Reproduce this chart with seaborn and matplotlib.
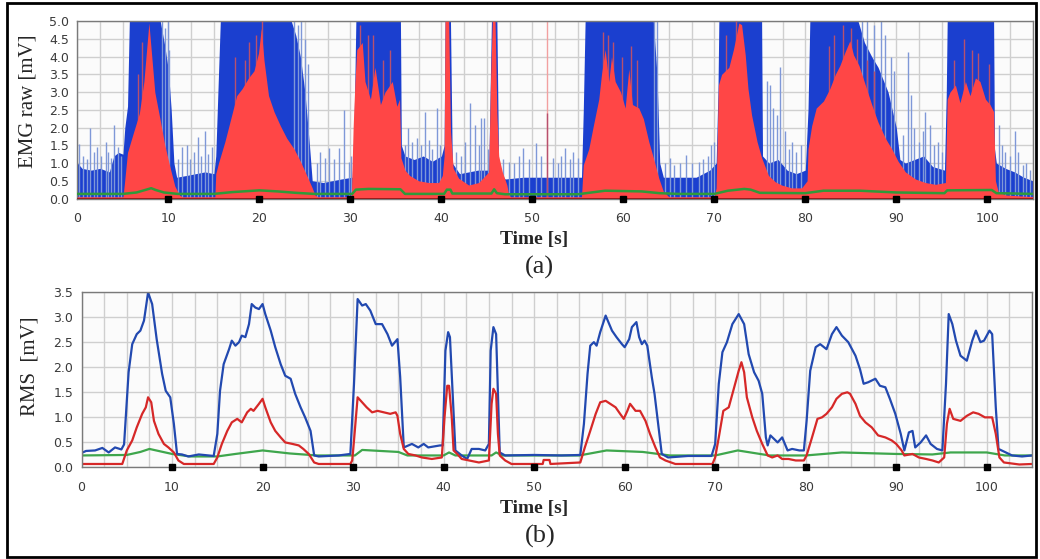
import numpy as np
import pandas as pd
import matplotlib
matplotlib.use("Agg")
import matplotlib.pyplot as plt
from matplotlib.patches import Rectangle
import seaborn as sns

# ---- panel (a): raw EMG, envelopes (time [s], mV) ----
raw_blue_t = [0, 0.5, 1.5, 2.5, 3.5, 4.0, 4.5, 5.0, 5.2, 5.5, 5.7, 9.1, 9.6, 10.0, 10.3, 10.6, 10.9,
              12, 13, 14, 15, 15.2, 15.5, 15.7, 23.5, 24.0, 24.5, 25.0, 25.5, 25.8, 27, 28, 29, 30.2,
              30.4, 30.6, 35.5, 35.6, 36.0, 37, 38, 39, 40.0, 40.3, 40.4, 41.0, 41.2, 42, 43, 44, 45.2,
              45.5, 46.1, 46.3, 47, 49, 51, 53, 55.4, 55.6, 55.8, 63.3, 63.7, 64.0, 64.4, 66, 68, 69.5,
              70.2, 70.4, 70.5, 75.2, 75.3, 76, 77, 78, 79, 80.0, 80.3, 80.5, 85.8, 86.5, 87.3, 88.0,
              89.1, 90.0, 90.4, 91, 92, 93, 94, 95.3, 95.5, 95.6, 100.7, 100.8, 101.0, 102, 103, 104, 105]
raw_blue_v = [1.0, 0.85, 0.8, 0.85, 0.75, 1.2, 1.3, 1.25, 2.0, 2.6, 5.0, 5.0, 4.3, 3.6, 2.5, 1.0, 0.6,
              0.65, 0.7, 0.75, 0.7, 1.2, 3.5, 5.0, 5.0, 4.6, 4.0, 3.0, 1.5, 0.5, 0.45, 0.5, 0.55, 0.6,
              2.0, 5.0, 5.0, 1.5, 1.2, 1.1, 1.2, 1.05, 1.2, 1.5, 5.0, 5.0, 1.0, 0.7, 0.75, 0.8, 0.8,
              5.0, 5.0, 0.8, 0.55, 0.6, 0.6, 0.6, 0.6, 2.5, 5.0, 5.0, 3.5, 1.0, 0.6, 0.6, 0.6, 0.8,
              1.0, 3.0, 5.0, 5.0, 1.2, 1.0, 1.1, 0.8, 0.7, 0.8, 2.5, 5.0, 5.0, 4.4, 4.0, 3.7,
              3.0, 2.0, 1.1, 1.0, 1.1, 1.2, 0.9, 0.8, 3.0, 5.0, 5.0, 1.4, 1.0, 0.85, 0.75, 0.6, 0.5]

blue_spike_t = [0.2, 0.6, 1.0, 1.4, 1.8, 2.2, 2.6, 3.1, 3.4, 3.7, 4.05, 4.5, 4.8,
                9.3, 9.6, 9.9, 10.1, 11.1, 11.5, 12.0, 12.4, 12.8, 13.2, 13.6, 14.05, 14.4, 14.8,
                23.8, 24.2, 24.6, 25.0, 25.3, 26.3, 26.7, 27.2, 27.6, 28.2, 28.7, 29.3, 29.8, 30.1,
                36.0, 36.3, 36.8, 37.3, 37.8, 38.2, 38.6, 39.0, 39.5, 39.9,
                41.6, 42.2, 42.6, 43.2, 43.7, 44.1, 44.4, 44.7, 45.1,
                46.8, 47.4, 48.0, 48.5, 49.0, 49.6, 50.4, 50.9, 52.3, 52.8, 53.2, 53.6, 54.1, 54.5, 55.0,
                63.4, 63.7, 64.6, 65.1, 65.6, 66.2, 66.9, 67.5, 68.3, 68.8, 69.3, 69.6, 70.0,
                75.8, 76.1, 76.5, 76.9, 77.2, 77.8, 78.2, 78.5, 79.0, 79.5,
                86.2, 86.8, 87.5, 88.3, 88.8, 89.4, 89.8,
                90.7, 91.3, 91.6, 92.0, 92.5, 92.9, 93.2, 93.7, 94.2, 94.6, 95.0,
                101.3, 101.6, 102.0, 102.5, 103.0, 103.4, 103.9, 104.3, 104.7]
blue_spike_v = [1.55, 1.2, 1.1, 1.98, 1.3, 1.45, 1.2, 1.6, 1.3, 1.15, 2.07, 1.45, 1.2,
                5.0, 4.8, 5.0, 4.2, 1.1, 1.46, 1.5, 1.1, 1.3, 1.74, 1.2, 1.89, 1.25, 1.46,
                5.0, 4.9, 5.0, 4.5, 3.8, 1.0, 1.32, 1.15, 1.42, 1.1, 1.42, 2.5, 1.04, 1.2,
                1.5, 1.98, 1.6, 1.7, 1.5, 2.45, 1.65, 1.4, 2.54, 1.5,
                1.3, 1.2, 1.6, 2.68, 2.07, 1.5, 2.26, 2.26, 1.4,
                1.1, 1.04, 1.0, 1.2, 1.42, 1.1, 1.56, 1.2, 1.13, 1.0, 1.2, 1.42, 1.1, 1.32, 1.15,
                5.0, 5.0, 1.0, 1.13, 0.95, 1.0, 1.23, 1.0, 1.04, 1.1, 1.2, 1.51, 1.6,
                3.3, 3.2, 2.54, 2.36, 3.72, 1.89, 1.4, 1.6, 1.3, 1.5,
                5.0, 5.0, 4.9, 5.0, 4.6, 4.0, 3.6,
                1.8, 4.14, 2.92, 2.0, 1.6, 1.9, 2.45, 2.07, 1.5, 1.6, 1.32,
                2.07, 1.5, 1.3, 1.2, 1.89, 1.3, 0.95, 1.0, 0.8]

raw_red_t = [0, 5.0, 5.15, 5.5, 6.2, 6.8, 7.3, 7.6, 7.85, 8.2, 8.5, 9.1, 9.6, 10.2, 10.7, 11.2, 11.5,
             15.1, 15.2, 15.5, 16.2, 17.0, 17.5, 18.1, 18.8, 19.4, 19.9, 20.2, 20.5, 21.0, 21.6, 22.3,
             23.0, 23.8, 24.5, 25.2, 25.8, 26.1, 26.4,
             30.1, 30.3, 30.5, 30.7, 31.3, 31.6, 32.2, 32.7, 33.3, 33.8, 34.6, 35.1, 35.4, 35.55, 36.0,
             36.5, 37.5, 38.6, 39.7, 40.1, 40.3, 40.4, 40.8, 41.0, 41.3, 41.9, 43.0, 44.1, 45.2, 45.4,
             45.6, 45.9, 46.1, 46.3, 46.7, 47.2, 47.4, 47.6,
             55.4, 55.6, 56.2, 56.7, 57.3, 57.6, 58.0, 58.4, 58.7, 59.1, 59.7, 60.2, 60.6, 61.0, 61.7,
             62.2, 62.8, 63.3, 63.9, 64.4, 65.0,
             70.0, 70.2, 70.45, 70.8, 71.6, 72.1, 72.7, 73.0, 73.4, 73.7, 74.1, 74.7, 75.2, 75.95, 76.7,
             77.4, 78.5, 79.6, 80.2, 80.3, 80.7, 81.2, 82.0, 82.7, 83.3, 83.8, 84.4, 84.9, 85.3, 85.9,
             86.6, 87.3, 88.0, 88.8, 89.5, 90.2, 91.0, 92.1, 93.2, 94.3, 95.4, 95.6, 95.9, 96.5, 97.0,
             97.6, 98.1, 98.7, 99.2, 99.8, 100.3, 100.7, 100.9, 101.2, 102.0, 105]
raw_red_v = [0.05, 0.05, 0.4, 1.3, 1.9, 2.4, 3.3, 4.2, 4.95, 3.9, 3.0, 2.2, 1.5, 0.85, 0.35, 0.1, 0.05,
             0.05, 0.7, 1.0, 1.6, 2.4, 2.9, 3.1, 3.4, 3.6, 4.1, 4.8, 3.9, 2.9, 2.45, 2.05,
             1.7, 1.4, 1.05, 0.65, 0.3, 0.1, 0.05,
             0.05, 2.0, 3.3, 4.2, 4.4, 3.3, 2.8, 3.7, 2.65, 3.0, 3.3, 2.6, 2.8, 1.15, 0.8,
             0.65, 0.5, 0.45, 0.45, 0.65, 1.2, 5.0, 5.0, 1.9, 0.85, 0.57, 0.38, 0.45, 0.75, 3.3,
             5.0, 5.0, 2.4, 1.2, 0.75, 0.38, 0.1, 0.05,
             0.05, 0.95, 1.4, 2.05, 2.8, 3.5, 4.2, 3.3, 4.0, 3.3, 3.0, 2.55, 3.65, 2.65, 2.55,
             2.25, 1.6, 1.15, 0.57, 0.2, 0.05,
             0.05, 0.3, 3.2, 3.5, 3.7, 4.2, 4.95, 4.9, 4.05, 3.1, 2.35, 1.6, 1.15, 0.65, 0.47,
             0.38, 0.3, 0.3, 0.5, 1.4, 2.05, 2.55, 2.75, 3.1, 3.5, 3.75, 4.15, 4.45, 4.05, 3.75,
             3.2, 2.65, 2.15, 1.7, 1.4, 1.05, 0.75, 0.55, 0.45, 0.4, 0.45, 2.8, 3.0, 3.2, 2.7,
             3.3, 2.9, 3.4, 3.3, 2.8, 2.65, 2.45, 0.5, 0.2, 0.1, 0.05]

red_spike_t = [6.6, 7.1, 17.3, 18.4, 18.9, 19.6, 20.3, 31.0, 31.9, 32.5, 33.6, 34.4, 51.6,
               57.8, 58.3, 58.9, 59.8, 60.8, 61.5, 71.3, 72.4, 82.6, 83.2, 84.1, 85.0, 85.7,
               86.8, 87.6, 96.3, 97.4, 98.3, 99.0, 100.2]
red_spike_v = [3.5, 4.4, 4.0, 3.9, 4.4, 4.6, 5.0, 4.9, 4.6, 4.6, 3.9, 4.2, 2.4,
               4.7, 4.6, 4.4, 4.0, 4.3, 3.9, 4.6, 5.0, 4.3, 4.6, 4.9, 4.8, 4.5,
               3.9, 3.6, 3.9, 4.5, 4.2, 4.1, 3.8]

raw_green_t = [0, 5, 6.5, 8.1, 8.6, 9.5, 11, 15, 17, 20, 22, 24, 26, 30.2, 30.6, 32, 35.5, 36,
               40.3, 40.6, 41, 41.2, 45.5, 45.8, 46.1, 47, 55, 56.5, 58, 62, 64, 66, 70, 71.5,
               73.3, 74, 75, 80, 82, 86, 90, 95.3, 95.6, 100.5, 101, 105]
raw_green_v = [0.13, 0.13, 0.17, 0.29, 0.24, 0.17, 0.13, 0.13, 0.18, 0.23, 0.2, 0.16, 0.13, 0.13,
               0.25, 0.27, 0.26, 0.13, 0.13, 0.25, 0.25, 0.14, 0.14, 0.26, 0.15, 0.12, 0.12, 0.17,
               0.22, 0.2, 0.15, 0.13, 0.13, 0.22, 0.27, 0.25, 0.16, 0.15, 0.22, 0.22, 0.17, 0.15,
               0.23, 0.24, 0.15, 0.13]

# ---- panel (b): RMS ----
rms_blue_t = [0, 0.5, 1.5, 2.3, 3.0, 3.7, 4.4, 4.7, 5.2, 5.6, 6.1, 6.5, 6.9, 7.35, 7.8, 8.3, 8.9, 9.3,
              9.8, 10.2, 10.55, 11.1, 11.8, 12.95, 14.05, 14.6, 15.0, 15.3, 15.7, 16.3, 16.6, 17.0,
              17.4, 17.7, 18.1, 18.5, 18.8, 19.2, 19.6, 20.0, 20.3, 20.9, 21.4, 22.0, 22.5, 23.1,
              23.6, 24.2, 24.7, 25.3, 25.7, 26.2, 28.4, 29.7, 30.1, 30.5, 31.0, 31.4, 31.9, 32.5,
              33.2, 33.8, 34.3, 34.9, 35.2, 35.6, 36.5, 37.2, 37.8, 38.3, 39.6, 39.9, 40.2, 40.5,
              40.7, 41.0, 41.3, 42.0, 42.6, 43.1, 43.9, 44.6, 45.0, 45.2, 45.5, 45.8, 46.0, 46.2,
              46.8, 50, 53, 55.1, 55.5, 55.9, 56.2, 56.6, 56.9, 57.3, 57.9, 58.2, 58.6, 59.1, 59.7,
              60.0, 60.5, 60.8, 61.3, 61.6, 61.9, 62.2, 62.5, 63.0, 63.3, 63.7, 64.1, 64.8, 67,
              69.6, 70.0, 70.4, 70.8, 71.3, 71.9, 72.6, 73.2, 73.7, 74.3, 74.8, 75.2, 75.6, 75.8,
              76.1, 76.5, 76.9, 77.4, 78.0, 78.5, 79.3, 79.8, 80.1, 80.5, 81.1, 81.6, 82.3, 82.9,
              83.4, 84.0, 84.7, 85.5, 86.0, 86.4, 86.9, 87.7, 88.2, 88.8, 89.3, 89.9, 90.5, 90.9,
              91.4, 91.8, 92.1, 92.7, 93.3, 93.8, 94.5, 95.1, 95.5, 95.8, 96.2, 96.6, 97.1, 97.8,
              98.4, 98.8, 99.3, 99.7, 100.3, 100.6, 101.0, 101.3, 102.1, 102.8, 103.9, 105]
rms_blue_v = [0.28, 0.32, 0.33, 0.38, 0.29, 0.39, 0.35, 0.45, 1.89, 2.45, 2.65, 2.72, 2.92, 3.48,
              3.25, 2.55, 1.86, 1.52, 1.39, 0.86, 0.26, 0.25, 0.21, 0.25, 0.23, 0.22, 0.66, 1.52,
              2.05, 2.35, 2.52, 2.42, 2.49, 2.62, 2.59, 2.85, 3.25, 3.18, 3.15, 3.25, 3.05, 2.72,
              2.39, 2.05, 1.82, 1.76, 1.46, 1.19, 0.99, 0.72, 0.23, 0.21, 0.23, 0.26, 1.66, 3.35,
              3.22, 3.25, 3.12, 2.85, 2.85, 2.65, 2.42, 2.55, 1.8, 0.39, 0.46, 0.39, 0.46, 0.39,
              0.43, 0.43, 2.32, 2.69, 2.59, 1.46, 0.33, 0.23, 0.16, 0.36, 0.36, 0.33, 0.46, 2.32,
              2.79, 2.65, 1.46, 0.29, 0.23, 0.24, 0.23, 0.24, 0.86, 1.86, 2.42, 2.49, 2.42, 2.69,
              3.02, 2.89, 2.72, 2.59, 2.45, 2.39, 2.55, 2.79, 2.89, 2.59, 2.45, 2.52, 2.42, 1.79,
              1.46, 0.86, 0.26, 0.19, 0.22, 0.22, 0.46, 1.66, 2.29, 2.49, 2.85, 3.05, 2.85, 2.25,
              1.89, 1.72, 1.46, 0.59, 0.43, 0.63, 0.56, 0.49, 0.59, 0.33, 0.36, 0.33, 0.33, 0.92,
              1.92, 2.39, 2.45, 2.35, 2.65, 2.79, 2.62, 2.49, 2.22, 1.95, 1.66, 1.69, 1.76, 1.62,
              1.59, 1.36, 1.06, 0.66, 0.33, 0.69, 0.72, 0.39, 0.49, 0.63, 0.46, 0.36, 0.33, 1.66,
              3.05, 2.85, 2.52, 2.22, 2.12, 2.52, 2.72, 2.49, 2.52, 2.72, 2.65, 1.19, 0.36, 0.29,
              0.23, 0.21, 0.23]

rms_red_t = [0, 4.5, 5.0, 5.6, 6.1, 6.7, 7.1, 7.35, 7.7, 8.0, 8.5, 9.1, 9.6, 10.2, 10.7, 11.3, 14.6,
             15.0, 15.5, 16.1, 16.6, 17.2, 17.7, 18.3, 18.7, 19.0, 19.6, 20.0, 20.3, 20.9, 21.4,
             22.0, 22.5, 23.3, 24.0, 24.5, 25.1, 25.7, 26.2, 29.7, 29.9, 30.1, 30.5, 31.0, 31.5,
             32.1, 32.7, 33.4, 34.1, 34.7, 34.9, 35.2, 35.6, 36.1, 36.9, 37.6, 38.7, 39.8, 40.1,
             40.4, 40.6, 40.9, 41.1, 41.5, 42.0, 42.8, 43.9, 45.0, 45.3, 45.5, 45.8, 46.0, 46.2,
             46.8, 47.5, 50.95, 51.05, 51.7, 51.8, 55.1, 55.6, 56.2, 56.8, 57.3, 57.9, 58.4, 59.0,
             59.5, 59.9, 60.3, 60.6, 61.2, 61.7, 62.3, 62.8, 63.4, 63.9, 64.5, 65.6, 69.7, 70.0,
             70.4, 70.9, 71.5, 72.0, 72.6, 72.9, 73.2, 73.5, 74.1, 74.6, 75.2, 75.8, 76.3, 76.9,
             77.4, 78.1, 78.9, 79.8, 80.1, 80.7, 81.3, 81.8, 82.3, 82.9, 83.4, 84.0, 84.6, 84.9,
             85.5, 86.0, 86.6, 87.3, 88.0, 88.8, 89.5, 90.0, 90.6, 90.9, 91.8, 92.5, 93.3, 94.0,
             94.7, 95.3, 95.6, 95.9, 96.3, 97.1, 97.8, 98.5, 99.1, 99.8, 100.6, 101.0, 101.4,
             101.9, 103.6, 105]
rms_red_v = [0.06, 0.06, 0.33, 0.53, 0.79, 1.06, 1.19, 1.39, 1.29, 0.92, 0.66, 0.46, 0.39, 0.29,
             0.13, 0.06, 0.06, 0.19, 0.46, 0.72, 0.89, 0.96, 0.89, 1.09, 1.16, 1.12, 1.26, 1.36,
             1.19, 0.89, 0.72, 0.59, 0.49, 0.46, 0.43, 0.36, 0.26, 0.09, 0.06, 0.06, 0.13, 0.53,
             1.39, 1.29, 1.19, 1.09, 1.12, 1.09, 1.06, 1.09, 1.02, 0.66, 0.36, 0.26, 0.23, 0.19,
             0.16, 0.19, 0.99, 1.62, 1.62, 0.99, 0.33, 0.26, 0.16, 0.13, 0.09, 0.13, 1.26, 1.56,
             1.46, 0.66, 0.23, 0.13, 0.06, 0.06, 0.14, 0.14, 0.06, 0.09, 0.39, 0.72, 1.06, 1.29,
             1.32, 1.26, 1.19, 1.06, 0.96, 1.12, 1.26, 1.12, 1.12, 0.92, 0.66, 0.39, 0.19, 0.13,
             0.06, 0.06, 0.19, 0.59, 1.12, 1.19, 1.52, 1.92, 2.09, 1.89, 1.39, 0.99, 0.72, 0.46,
             0.23, 0.19, 0.23, 0.16, 0.16, 0.13, 0.13, 0.23, 0.59, 0.96, 0.99, 1.06, 1.19, 1.36,
             1.46, 1.49, 1.46, 1.26, 1.02, 0.89, 0.79, 0.63, 0.59, 0.53, 0.46, 0.33, 0.23, 0.26,
             0.19, 0.16, 0.13, 0.09, 0.19, 0.86, 1.16, 0.96, 0.92, 1.02, 1.09, 1.06, 0.99, 0.99,
             0.66, 0.19, 0.09, 0.05, 0.06]

rms_green_t = [0, 5, 6.5, 7.5, 8.5, 10, 12, 15, 17, 20, 23, 26, 30.2, 31, 35, 36, 40, 40.6, 41.3,
               45.3, 45.8, 46.5, 55, 58, 62, 65, 70, 72.5, 76, 80, 84, 90, 94, 96, 100, 102, 105]
rms_green_v = [0.23, 0.24, 0.3, 0.36, 0.32, 0.26, 0.21, 0.21, 0.26, 0.33, 0.27, 0.23, 0.23, 0.34,
               0.3, 0.23, 0.23, 0.29, 0.23, 0.23, 0.29, 0.23, 0.23, 0.33, 0.3, 0.23, 0.23, 0.33,
               0.23, 0.23, 0.29, 0.26, 0.25, 0.29, 0.29, 0.23, 0.23]

x_ticks = [0, 10, 20, 30, 40, 50, 60, 70, 80, 90, 100]

sns.set_style("white")
plt.rcParams['font.family'] = ['DejaVu Sans']

fig = plt.figure(figsize=(10.4, 5.59), dpi=100)
ax1 = fig.add_axes([0.0745, 0.6449, 0.9185, 0.3172])
ax2 = fig.add_axes([0.0784, 0.1646, 0.9139, 0.3139])


def style_axes(ax, ymax, ystep):
    ax.set_facecolor("#fbfbfb")
    ax.set_xlim(0, 105)
    ax.set_ylim(0, ymax)
    ax.set_xticks(x_ticks)
    ax.set_xticks(np.arange(0, 105.1, 2.5), minor=True)
    ax.set_yticks(np.arange(0, ymax + 0.01, ystep))
    ax.set_yticklabels(["%.1f" % v for v in np.arange(0, ymax + 0.01, ystep)])
    ax.grid(True, which="both", color="#cfcfcf", lw=1)
    ax.set_axisbelow(True)
    ax.tick_params(which="both", length=0, labelsize=9, colors="#3a3a3a")
    ax.tick_params(axis="x", pad=10)
    ax.tick_params(axis="y", pad=6)
    for s in ax.spines.values():
        s.set_color("#7a7a7a")
        s.set_linewidth(1)
    # small black squares on the time axis
    ax.plot(x_ticks[1:], [0] * 10, "s", color="black", ms=4, clip_on=False, zorder=10)


style_axes(ax1, 5.0, 0.5)
style_axes(ax2, 3.5, 0.5)

# (a) raw EMG
ax1.fill_between(raw_blue_t, 0, raw_blue_v, color="#1b3fcf", lw=0, zorder=2)
ax1.vlines(blue_spike_t, 0, blue_spike_v, color="#7f98d8", lw=1, zorder=2)
ax1.vlines(red_spike_t, 0, red_spike_v, color="#b8506e", lw=1, zorder=2.6)
ax1.axvline(51.6, color="#f2a0a0", lw=1, zorder=2.5)
ax1.fill_between(raw_red_t, 0, raw_red_v, color="#ff4646", lw=0, zorder=3)
sns.lineplot(x=raw_green_t, y=raw_green_v, ax=ax1, color="#2f9a3a", lw=1.8, zorder=4,
             estimator=None, sort=False)
ax1.axhline(0, color="#8b1a1a", lw=2, zorder=5)

# (b) RMS
rms = pd.concat([
    pd.DataFrame({"t": rms_green_t, "v": rms_green_v, "ch": "green"}),
    pd.DataFrame({"t": rms_blue_t, "v": rms_blue_v, "ch": "blue"}),
    pd.DataFrame({"t": rms_red_t, "v": rms_red_v, "ch": "red"}),
])
sns.lineplot(data=rms, x="t", y="v", hue="ch", ax=ax2, estimator=None, sort=False,
             palette={"green": "#3ea64c", "blue": "#2249b0", "red": "#d62828"},
             lw=1.6, legend=False)

for ax in (ax1, ax2):
    ax.set_xlabel("")
    ax.set_ylabel("")

serif = ["Liberation Serif", "DejaVu Serif"]
fig.text(0.027, 0.819, "EMG raw [mV]", rotation=90, ha="center", va="center",
         family=serif, fontsize=15)
fig.text(0.029, 0.345, "RMS  [mV]", rotation=90, ha="center", va="center",
         family=serif, fontsize=15)
fig.text(0.514, 1 - 240 / 559, "Time [s]", ha="center", va="center", family=serif,
         fontsize=14, fontweight="bold")
fig.text(0.514, 1 - 508 / 559, "Time [s]", ha="center", va="center", family=serif,
         fontsize=14, fontweight="bold")
fig.text(0.519, 1 - 267 / 559, "(a)", ha="center", va="center", family=serif, fontsize=19)
fig.text(0.519, 1 - 536 / 559, "(b)", ha="center", va="center", family=serif, fontsize=19)

fig.patches.append(Rectangle((7 / 1040, 2 / 559), 1029 / 1040, 554 / 559, transform=fig.transFigure,
                             fill=False, ec="black", lw=2))

fig.savefig("out.png", dpi=100)
